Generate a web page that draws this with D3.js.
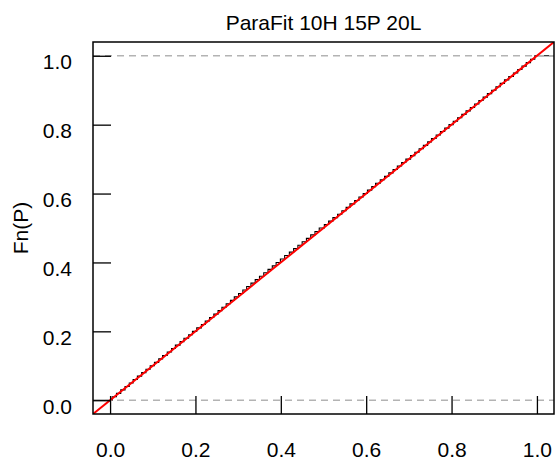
<!DOCTYPE html>
<html>
<head>
<meta charset="utf-8">
<script src="https://cdn.jsdelivr.net/npm/d3@7"></script>
<style>
  body { margin: 0; background: #fff; }
  text { font-family: "Liberation Sans", Arial, sans-serif; fill: #000; }
</style>
</head>
<body>
<script>
var pValues = [
  0.005, 0.015, 0.025, 0.035, 0.045, 0.054, 0.064, 0.074, 0.084, 0.094,
  0.104, 0.114, 0.123, 0.134, 0.144, 0.153, 0.164, 0.173, 0.184, 0.193,
  0.203, 0.214, 0.223, 0.233, 0.243, 0.253, 0.262, 0.272, 0.282, 0.291,
  0.301, 0.311, 0.320, 0.330, 0.340, 0.350, 0.360, 0.370, 0.380, 0.389,
  0.399, 0.409, 0.420, 0.430, 0.440, 0.450, 0.460, 0.470, 0.480, 0.490,
  0.502, 0.512, 0.522, 0.533, 0.543, 0.553, 0.562, 0.573, 0.583, 0.593,
  0.603, 0.613, 0.622, 0.633, 0.643, 0.653, 0.663, 0.673, 0.683, 0.693,
  0.704, 0.714, 0.724, 0.734, 0.744, 0.753, 0.764, 0.774, 0.784, 0.794,
  0.804, 0.814, 0.824, 0.834, 0.844, 0.854, 0.864, 0.874, 0.884, 0.894,
  0.904, 0.914, 0.924, 0.934, 0.945, 0.955, 0.965, 0.975, 0.985, 0.995
];
var xTicks = [0, 0.2, 0.4, 0.6, 0.8, 1.0];
var yTicks = [0, 0.2, 0.4, 0.6, 0.8, 1.0];
var refLines = [0, 1];
var title = "ParaFit 10H 15P 20L";
var yLabel = "Fn(P)";

var width = 557, height = 464;
var plot = {left: 93, right: 554, top: 42, bottom: 414};
var tickLen = 18;
var fontSize = "21px";

var svg = d3.select("body").append("svg")
    .attr("width", width)
    .attr("height", height);

var x = d3.scaleLinear().domain([-0.04, 1.04]).range([plot.left, plot.right]);
var y = d3.scaleLinear().domain([-0.04, 1.04]).range([plot.bottom, plot.top]);

svg.append("clipPath").attr("id", "clip")
  .append("rect")
    .attr("x", plot.left).attr("y", plot.top)
    .attr("width", plot.right - plot.left)
    .attr("height", plot.bottom - plot.top);

var g = svg.append("g").attr("clip-path", "url(#clip)");

// ecdf as a step function
var n = pValues.length;
var steps = [{p: -0.04, f: 0}];
pValues.forEach(function(p, i) { steps.push({p: p, f: (i + 1) / n}); });
steps.push({p: 1.04, f: 1});

var line = d3.line()
    .x(function(d) { return x(d.p); })
    .y(function(d) { return y(d.f); })
    .curve(d3.curveStepAfter);

g.append("path")
    .datum(steps)
    .attr("d", line)
    .attr("fill", "none")
    .attr("stroke", "#000")
    .attr("stroke-width", 1.1);

// dashed 0/1 lines
g.selectAll(".ref").data(refLines).enter().append("line")
    .attr("class", "ref")
    .attr("x1", plot.left).attr("x2", plot.right)
    .attr("y1", function(d) { return y(d); })
    .attr("y2", function(d) { return y(d); })
    .attr("stroke", "#b3b3b3")
    .attr("stroke-width", 1.5)
    .attr("stroke-dasharray", "7,5");

// abline(0,1)
g.append("line")
    .attr("x1", x(-0.04)).attr("y1", y(-0.04))
    .attr("x2", x(1.04)).attr("y2", y(1.04))
    .attr("stroke", "#ff0000")
    .attr("stroke-width", 2);

// inward ticks
var xAxis = d3.axisBottom(x).tickValues(xTicks).tickSize(-tickLen).tickFormat(d3.format(".1f"));
var yAxis = d3.axisLeft(y).tickValues(yTicks).tickSize(-tickLen).tickFormat(d3.format(".1f"));

var gx = svg.append("g").attr("transform", "translate(0," + plot.bottom + ")").call(xAxis);
gx.attr("font-family", null).attr("font-size", null);
gx.select(".domain").remove();
gx.selectAll(".tick line").attr("stroke", "#000").attr("stroke-width", 1.3);
gx.selectAll(".tick text")
    .attr("y", 43).attr("dy", null)
    .style("font-size", fontSize);

var gy = svg.append("g").attr("transform", "translate(" + plot.left + ",0)").call(yAxis);
gy.attr("font-family", null).attr("font-size", null);
gy.select(".domain").remove();
gy.selectAll(".tick line").attr("stroke", "#000").attr("stroke-width", 1.3);
gy.selectAll(".tick text")
    .attr("x", -21).attr("dy", 13)
    .attr("text-anchor", "end")
    .style("font-size", fontSize);

// box
svg.append("rect")
    .attr("x", plot.left).attr("y", plot.top)
    .attr("width", plot.right - plot.left)
    .attr("height", plot.bottom - plot.top)
    .attr("fill", "none")
    .attr("stroke", "#000")
    .attr("stroke-width", 1.5);

svg.append("text")
    .attr("x", (plot.left + plot.right) / 2)
    .attr("y", 30)
    .attr("text-anchor", "middle")
    .style("font-size", fontSize)
    .text(title);

svg.append("text")
    .attr("transform", "translate(28," + (plot.top + plot.bottom) / 2 + ") rotate(-90)")
    .attr("text-anchor", "middle")
    .style("font-size", fontSize)
    .text(yLabel);
</script>
</body>
</html>
